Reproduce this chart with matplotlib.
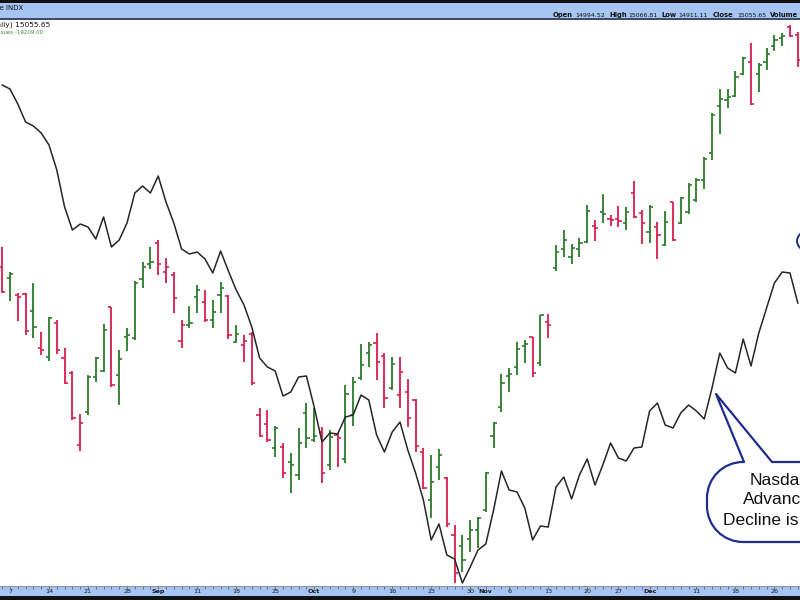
import numpy as np
import matplotlib
matplotlib.use("Agg")
import matplotlib.pyplot as plt
from matplotlib.path import Path
from matplotlib.patches import PathPatch, Rectangle, Ellipse

# ---------------- data (Aug 4 .. Dec 29, trading days) ----------------
opens = [13865, 13810, 13725, 13730, 13645, 13460, 13415, 13585, 13410, 13335,
         12975, 13140, 13315, 13345, 13665, 13325, 13515, 13510, 13805, 13880,
         13985, 13840, 13825, 13495, 13575, 13715, 13690, 13600, 13725, 13720,
         13490, 13475, 13530, 13125, 13080, 12960, 12965, 12890, 12825, 13135,
         13000, 13040, 12875, 13025, 12905, 13125, 13310, 13435, 13485, 13420,
         13260, 13225, 13240, 13200, 12940, 12700, 12865, 12810, 12525, 12470,
         12505, 12550, 12650, 13020, 13165, 13320, 13365, 13470, 13515, 13385,
         13590, 13860, 13955, 13915, 13955, 13990, 14070, 14140, 14105, 14105,
         14085, 14235, 14135, 14040, 14065, 13975, 14190, 14085, 14140, 14200,
         14300, 14435, 14670, 14700, 14720, 14830, 14890, 14830, 14890, 14970,
         15010, 15065, 15025]
highs = [13965, 13840, 13735, 13735, 13785, 13540, 13615, 13600, 13460, 13345,
         13130, 13325, 13415, 13580, 13665, 13450, 13560, 13795, 13890, 13965,
         14000, 13910, 13840, 13600, 13670, 13775, 13750, 13700, 13790, 13725,
         13575, 13525, 13540, 13160, 13150, 13070, 12985, 12935, 13060, 13185,
         13160, 13065, 13050, 13035, 13275, 13315, 13480, 13490, 13535, 13435,
         13415, 13415, 13305, 13205, 12960, 12925, 12955, 12815, 12575, 12525,
         12600, 12615, 12840, 13090, 13330, 13360, 13490, 13500, 13515, 13625,
         13630, 13975, 14050, 13980, 14010, 14175, 14100, 14230, 14125, 14170,
         14165, 14295, 14150, 14175, 14090, 14145, 14190, 14215, 14285, 14310,
         14415, 14635, 14755, 14755, 14845, 14915, 14985, 14885, 14960, 15025,
         15035, 15075, 15040]
lows = [13735, 13695, 13595, 13525, 13510, 13425, 13395, 13430, 13280, 13100,
        12945, 13125, 13290, 13340, 13265, 13175, 13445, 13500, 13760, 13855,
        13825, 13785, 13635, 13460, 13560, 13635, 13590, 13560, 13635, 13505,
        13485, 13390, 13275, 13015, 12990, 12915, 12810, 12735, 12800, 12960,
        12990, 12785, 12850, 12865, 12885, 13070, 13300, 13365, 13300, 13160,
        13250, 13160, 13065, 12940, 12755, 12610, 12800, 12565, 12285, 12340,
        12440, 12460, 12640, 12960, 13140, 13240, 13325, 13385, 13315, 13370,
        13510, 13845, 13915, 13880, 13915, 13985, 13995, 14085, 14070, 14065,
        14050, 14110, 13980, 13985, 13905, 13970, 13995, 14080, 14130, 14190,
        14255, 14400, 14530, 14660, 14715, 14825, 14675, 14740, 14850, 14945,
        14970, 15015, 14865]
closes = [13740, 13830, 13715, 13545, 13565, 13450, 13610, 13450, 13285, 13110,
          13085, 13315, 13410, 13550, 13275, 13405, 13525, 13785, 13865, 13890,
          13880, 13865, 13710, 13575, 13585, 13750, 13600, 13640, 13760, 13525,
          13530, 13495, 13285, 13020, 13000, 13060, 12835, 12875, 12985, 13010,
          13020, 12835, 13015, 13010, 13230, 13290, 13375, 13475, 13390, 13210,
          13380, 13340, 13110, 12970, 12760, 12790, 12925, 12580, 12335, 12400,
          12550, 12610, 12835, 13085, 13285, 13330, 13455, 13480, 13335, 13625,
          13575, 13940, 14000, 13960, 13985, 14145, 14060, 14130, 14100, 14095,
          14140, 14115, 14085, 14165, 14025, 14090, 14000, 14210, 14275, 14300,
          14405, 14625, 14705, 14715, 14815, 14910, 14680, 14875, 14930, 15000,
          15020, 15020, 14900]
bar_colors = ("RGRRGRGRRR" "RGGGRGGGGG" "RRRRGGRGGR" "GRRRRGRGGG" "GRGRGGGGRR"
              "GRRRRGGRRG" "GGGGGGGGRG" "RGGGGGRGRR" "GRRGRGRGGG" "GGGGGGRGGG" "GRR")
ad_line = [-8309, -8509, -9259, -10159, -10359, -10709, -11309, -12559, -14409, -15559,
           -15259, -15409, -16009, -14909, -16409, -16059, -15209, -13709, -13359, -13709,
           -12859, -14159, -15209, -16509, -16759, -16659, -17009, -17709, -16609, -17609,
           -18559, -19309, -20409, -21959, -22409, -22609, -23859, -23659, -22909, -22859,
           -24409, -26159, -25709, -25759, -24909, -24809, -23809, -24059, -25809, -26659,
           -25659, -25159, -26559, -27709, -29059, -31059, -30259, -31809, -32009, -33209,
           -32409, -31559, -31259, -29559, -27609, -28559, -28659, -29459, -31059, -30359,
           -30409, -28409, -27909, -29009, -27809, -27009, -28309, -27309, -26209, -26959,
           -27109, -26459, -26409, -24609, -24209, -25309, -25459, -24709, -24309, -24609,
           -25009, -23459, -21709, -22459, -22709, -21009, -22359, -20709, -19459, -18209,
           -17659, -17709, -19209]
tick_days = [0, 5, 10, 15, 19, 24, 29, 34, 39, 44, 49, 54, 59, 61, 64, 69, 74, 78, 82, 88, 93, 98, 102]
tick_labels = ["7", "14", "21", "28", "Sep", "11", "18", "25", "Oct", "9", "16", "23", "30",
               "Nov", "6", "13", "20", "27", "Dec", "11", "18", "26", "2"]
month_names = ["Sep", "Oct", "Nov", "Dec"]
callout_lines = ["Nasdaq", "Advance-", "Decline is high"]

# ---------------- styling ----------------
GREEN = '#2b7a2b'
RED = '#d81e4c'
BAND = '#a6c5f2'
NAVY = '#1f2d8c'

W, H = 800, 600
fig = plt.figure(figsize=(8, 6), dpi=100)
fig.patch.set_facecolor('white')

x = np.arange(len(closes)) - 1
xlim = (-10 / 7.8, 790 / 7.8)

# main price axes (plot area: y pixels 20..586)
ax = fig.add_axes([0, 14 / H, 1, 566 / H])
ax.set_xlim(*xlim)
ax.set_ylim(12270, 15100)
ax.set_axis_off()
cols = [GREEN if c == 'G' else RED for c in bar_colors]
ax.vlines(x, lows, highs, colors=cols, lw=1.3)
ax.hlines(opens, x - 0.42, x, colors=cols, lw=1.2)
ax.hlines(closes, x, x + 0.42, colors=cols, lw=1.2)

# advance-decline line on its own scale
ax2 = ax.twinx()
ax2.set_xlim(*xlim)
ax2.set_ylim(-33359, -5059)
ax2.set_axis_off()
ax2.plot(x, ad_line, color='#262626', lw=1.1)

# bottom date band
bx = fig.add_axes([0, 4 / H, 1, 10 / H])
bx.set_xlim(*xlim)
bx.set_ylim(0, 1)
bx.set_facecolor(BAND)
for s in bx.spines.values():
    s.set_visible(False)
bx.set_xticks([])
bx.set_yticks([])
bx.vlines(x, 0.72, 1.0, colors='#5a6070', lw=0.6)
bx.axhline(1.0, color='#8a94a6', lw=0.8)
for d, lab in zip(tick_days, tick_labels):
    bx.text(d, 0.42, lab, ha='center', va='center', fontsize=4.6,
            fontweight='bold' if lab in month_names else 'normal',
            color='#1a1a1a', family='DejaVu Sans', clip_on=True)

# overlay in pixel coordinates for header, borders and callout
ov = fig.add_axes([0, 0, 1, 1], zorder=10)
ov.set_xlim(0, W)
ov.set_ylim(H, 0)
ov.set_axis_off()
ov.patch.set_alpha(0)

ov.add_patch(Rectangle((0, 0), W, 2.7, color='#111111', lw=0))
ov.add_patch(Rectangle((0, 2.7), W, 15.8, color=BAND, lw=0))
ov.add_patch(Rectangle((0, 18.3), W, 1.6, color='#3f4b66', lw=0))
ov.add_patch(Rectangle((0, 596), W, 4, color='#111111', lw=0))

ov.text(23, 7.6, "$COMPQ Nasdaq Composite INDX", ha='right', va='center',
        fontsize=5, color='#111111', family='DejaVu Sans')
hdr = [(553, "Open", True), (575, "14994.52", False), (609, "High", True),
       (628, "15066.81", False), (661, "Low", True), (678, "14911.11", False),
       (713, "Close", True), (737, "15055.65", False), (770, "Volume", True)]
for hx, t, b in hdr:
    ov.text(hx, 15.3, t, ha='left', va='center', fontsize=4.9 if b else 4.5,
            fontweight='bold' if b else 'normal', color='#111111',
            family='DejaVu Sans')

ov.text(50, 25, "$COMPQ (Daily) 15055.65", ha='right', va='center',
        fontsize=5.4, color='#111111', family='DejaVu Sans')
ov.text(42.7, 32.3, "$NAAD Nasdaq Advance-Decline Issues -19209.00", ha='right',
        va='center', fontsize=4, color='#3a8a3a', family='DejaVu Sans')

# callout bubble
R, L, T, B, Rt = 36, 707, 462, 542, 880
k = 0.5523 * R
verts = [(744, T), (716, 394), (772, T), (Rt, T), (Rt, B), (L + R, B),
         (L + R - k, B), (L, B - R + k), (L, B - R),
         (L, T + R),
         (L, T + R - k), (L + R - k, T), (L + R, T),
         (744, T)]
codes = [Path.MOVETO, Path.LINETO, Path.LINETO, Path.LINETO, Path.LINETO, Path.LINETO,
         Path.CURVE4, Path.CURVE4, Path.CURVE4,
         Path.LINETO,
         Path.CURVE4, Path.CURVE4, Path.CURVE4,
         Path.CLOSEPOLY]
ov.add_patch(PathPatch(Path(verts, codes), facecolor='white', edgecolor=NAVY,
                       lw=1.6, joinstyle='round'))
for ty, line in zip([480, 499.5, 520], callout_lines):
    ov.text(780, ty, line, ha='center', va='center', fontsize=12.5,
            color='#111111', family='Liberation Sans')

# second (cut-off) callout at the right edge
ov.add_patch(Ellipse((828, 241), 62, 32, facecolor='white', edgecolor=NAVY, lw=1.4))

fig.savefig("out.png", dpi=100)
